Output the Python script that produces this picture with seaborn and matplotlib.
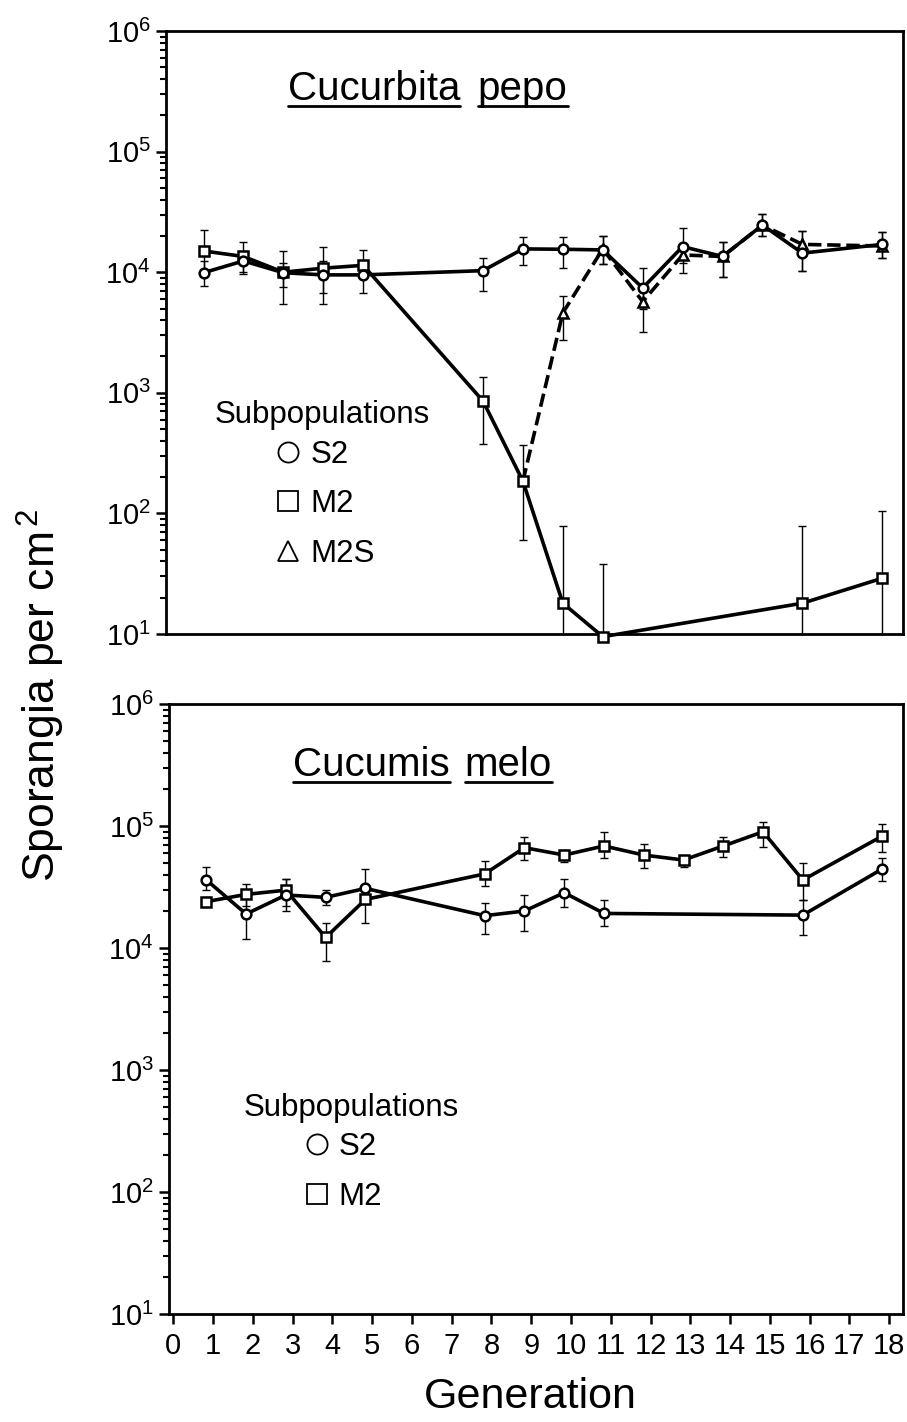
import numpy as np
import pandas as pd
import matplotlib
matplotlib.use("Agg")
import matplotlib.pyplot as plt
import seaborn as sns
from matplotlib.lines import Line2D
from matplotlib import font_manager

# ==========================================================
# Data
# ==========================================================

# top panel - Cucurbita pepo
PEPO_S2_GEN = [1, 2, 3, 4, 5, 8, 9, 10, 11, 12, 13, 14, 15, 16, 18]
PEPO_S2 = [9900, 12400, 9900, 9500, 9500, 10300, 15600, 15500, 15300, 7400, 16300, 13500, 24600, 14400, 17000]
PEPO_S2_HI = [12400, 15000, 12000, 12500, 12000, 13000, 19700, 19700, 19900, 10800, 23100, 17900, 30200, 22000, 21400]
PEPO_S2_LO = [7700, 9700, 7600, 6700, 6700, 7000, 11500, 10800, 11600, 5000, 12000, 9100, 19900, 10300, 13000]

PEPO_M2_GEN = [1, 2, 3, 4, 5, 8, 9, 10, 11, 16, 18]
PEPO_M2 = [15000, 13500, 10000, 10800, 11400, 855, 185, 18, 9.5, 18, 29]
PEPO_M2_HI = [22400, 17700, 15000, 16100, 15300, 1350, 370, 78, 38, 78, 105]
PEPO_M2_LO = [10000, 10000, 5450, 5450, 9000, 374, 60, 5, 5, 5, 5]

# M2S branches off the M2 line at generation 9
PEPO_M2S_GEN = [9, 10, 11, 12, 13, 14, 15, 16, 18]
PEPO_M2S = [185, 4600, 15600, 5700, 13900, 13500, 24600, 17000, 16500]
PEPO_M2S_HI = [185, 6300, 19900, 7500, 17000, 17900, 30200, 22000, 21400]
PEPO_M2S_LO = [185, 2750, 11600, 3200, 9800, 9100, 19900, 10300, 13000]

# bottom panel - Cucumis melo
MELO_S2_GEN = [1, 2, 3, 4, 5, 8, 9, 10, 11, 16, 18]
MELO_S2 = [36100, 19000, 27200, 26000, 30800, 18400, 20100, 28400, 19200, 18600, 44500]
MELO_S2_HI = [46400, 27000, 36500, 29800, 44500, 23500, 27200, 36800, 24700, 24700, 54300]
MELO_S2_LO = [30000, 11900, 22000, 22500, 23000, 13000, 13800, 21500, 15200, 12800, 35600]

MELO_M2_GEN = [1, 2, 3, 4, 5, 8, 9, 10, 11, 12, 13, 14, 15, 16, 18]
MELO_M2 = [24000, 27500, 29800, 12200, 25000, 40500, 66400, 57800, 68600, 57800, 52600, 68600, 89700, 36100, 82800]
MELO_M2_HI = [26000, 33300, 36500, 16100, 33000, 52000, 80800, 63600, 89700, 70800, 57300, 80800, 108000, 50100, 103000]
MELO_M2_LO = [22000, 22000, 20200, 7800, 16100, 32200, 52600, 50500, 55000, 45500, 46100, 56000, 67600, 24700, 61500]

GENERATION_TICKS = list(range(0, 19))

# the original points sit a little left of their tick marks
X_OFFSET = -0.17

# ==========================================================
# Style
# ==========================================================

sns.set_theme(style="ticks")
plt.rcParams["font.family"] = ["Liberation Sans", "DejaVu Sans"]
plt.rcParams["mathtext.fontset"] = "custom"
plt.rcParams["mathtext.rm"] = "Liberation Sans"
plt.rcParams["mathtext.it"] = "Liberation Sans:italic"
for key in ["text.color", "axes.labelcolor", "xtick.color", "ytick.color",
            "axes.edgecolor"]:
    plt.rcParams[key] = "black"

try:
    font_manager.findfont(font_manager.FontProperties(family="Liberation Sans Narrow"),
                          fallback_to_default=False)
    NARROW = "Liberation Sans Narrow"
    NARROW_SIZE = 24
except Exception:
    NARROW = "Liberation Sans"
    NARROW_SIZE = 21


def DrawSeries(ax, gen, val, hi, lo, marker, dashed=False, skip_first=False):
    x = np.array(gen, dtype=float) + X_OFFSET
    val = np.array(val, dtype=float)
    hi = np.array(hi, dtype=float)
    lo = np.array(lo, dtype=float)
    df = pd.DataFrame({"x": x, "y": val})

    start = 1 if skip_first else 0
    ax.errorbar(x[start:], val[start:],
                yerr=[val[start:] - lo[start:], hi[start:] - val[start:]],
                fmt="none", ecolor="black", elinewidth=1.0,
                capsize=3.2, capthick=1.0, zorder=2)

    sns.lineplot(data=df, x="x", y="y", ax=ax, color="black",
                 linewidth=2.6, linestyle="--" if dashed else "-",
                 marker=marker, markersize=7, markerfacecolor="white",
                 markeredgecolor="black", markeredgewidth=1.8,
                 markevery=list(range(start, len(x))),
                 estimator=None, sort=False, zorder=3, clip_on=False)


def StyleAxis(ax):
    ax.set_yscale("log")
    ax.set_ylim(10, 1e6)
    ax.set_xlim(-0.11, 18.35)
    for sp in ax.spines.values():
        sp.set_visible(True)
        sp.set_linewidth(2.0)
        sp.set_color("black")
    ax.tick_params(axis="y", which="major", direction="out", length=7,
                   width=1.8, labelsize=21, pad=4, color="black")
    ax.tick_params(axis="y", which="minor", direction="out", length=4,
                   width=1.5, color="black")
    ax.set_xlabel("")
    ax.set_ylabel("")
    ax.grid(False)


def UnderlinedTitle(fig, ax, words, xs, y):
    texts = []
    for w, x in zip(words, xs):
        t = ax.text(x, y, w, transform=ax.transAxes, fontsize=29,
                    ha="left", va="baseline")
        texts.append(t)
    fig.canvas.draw()
    inv = fig.transFigure.inverted()
    for t in texts:
        bb = t.get_window_extent()
        base = ax.transAxes.transform((0, y))[1]
        (x0, y0) = inv.transform((bb.x0, base - 6))
        (x1, _) = inv.transform((bb.x1, base - 6))
        fig.add_artist(Line2D([x0, x1], [y0, y0], transform=fig.transFigure,
                              color="black", linewidth=2.0))


def SubpopLegend(ax, labels, markers, x_title, y_title, x_items, y_items):
    ax.text(x_title, y_title, "Subpopulations", transform=ax.transAxes,
            fontsize=22.5, ha="left", va="baseline")
    handles = [Line2D([], [], linestyle="none", marker=m, markersize=14.5,
                      markerfacecolor="white", markeredgecolor="black",
                      markeredgewidth=1.3) for m in markers]
    leg = ax.legend(handles, labels, loc="upper left",
                    bbox_to_anchor=(x_items, y_items), frameon=False,
                    fontsize=22.5, handlelength=1.0, handletextpad=0.2,
                    labelspacing=0.62, borderpad=0, borderaxespad=0)
    return leg


# ==========================================================
# Figure
# ==========================================================

fig = plt.figure(figsize=(9.07, 14.22), dpi=100)
ax1 = fig.add_axes([166 / 907, 1 - 634 / 1422, 737 / 907, 603 / 1422])
ax2 = fig.add_axes([169 / 907, 1 - 1314 / 1422, 734 / 907, 610 / 1422])

for ax in (ax1, ax2):
    StyleAxis(ax)

# top panel
DrawSeries(ax1, PEPO_M2S_GEN, PEPO_M2S, PEPO_M2S_HI, PEPO_M2S_LO, "^",
           dashed=True, skip_first=True)
DrawSeries(ax1, PEPO_M2_GEN, PEPO_M2, PEPO_M2_HI, PEPO_M2_LO, "s")
DrawSeries(ax1, PEPO_S2_GEN, PEPO_S2, PEPO_S2_HI, PEPO_S2_LO, "o")
StyleAxis(ax1)
ax1.tick_params(axis="x", which="both", bottom=False, labelbottom=False)

# bottom panel
DrawSeries(ax2, MELO_M2_GEN, MELO_M2, MELO_M2_HI, MELO_M2_LO, "s")
DrawSeries(ax2, MELO_S2_GEN, MELO_S2, MELO_S2_HI, MELO_S2_LO, "o")
StyleAxis(ax2)
ax2.set_xticks(GENERATION_TICKS)
ax2.set_xticklabels([str(g) for g in GENERATION_TICKS], family=NARROW,
                    fontsize=NARROW_SIZE)
ax2.tick_params(axis="x", which="major", direction="out", length=7,
                width=1.8, pad=6, color="black")
ax2.tick_params(axis="x", which="minor", bottom=False)

# legends and titles
SubpopLegend(ax1, ["S2", "M2", "M2S"], ["o", "s", "^"],
             0.0665, 0.35, 0.145, 0.322)
SubpopLegend(ax2, ["S2", "M2"], ["o", "s"],
             0.101, 0.325, 0.18, 0.298)

UnderlinedTitle(fig, ax1, ["Cucurbita", "pepo"], [0.165, 0.423], 0.886)
UnderlinedTitle(fig, ax2, ["Cucumis", "melo"], [0.169, 0.403], 0.882)

fig.text(0.045, 1 - 695 / 1422, "Sporangia per cm$^{\\,2}$", rotation=90,
         ha="center", va="center", fontsize=32)
fig.text(530 / 907, 1 - 1397 / 1422, "Generation", ha="center", va="center",
         fontsize=31)

fig.savefig("out.png", dpi=100)
